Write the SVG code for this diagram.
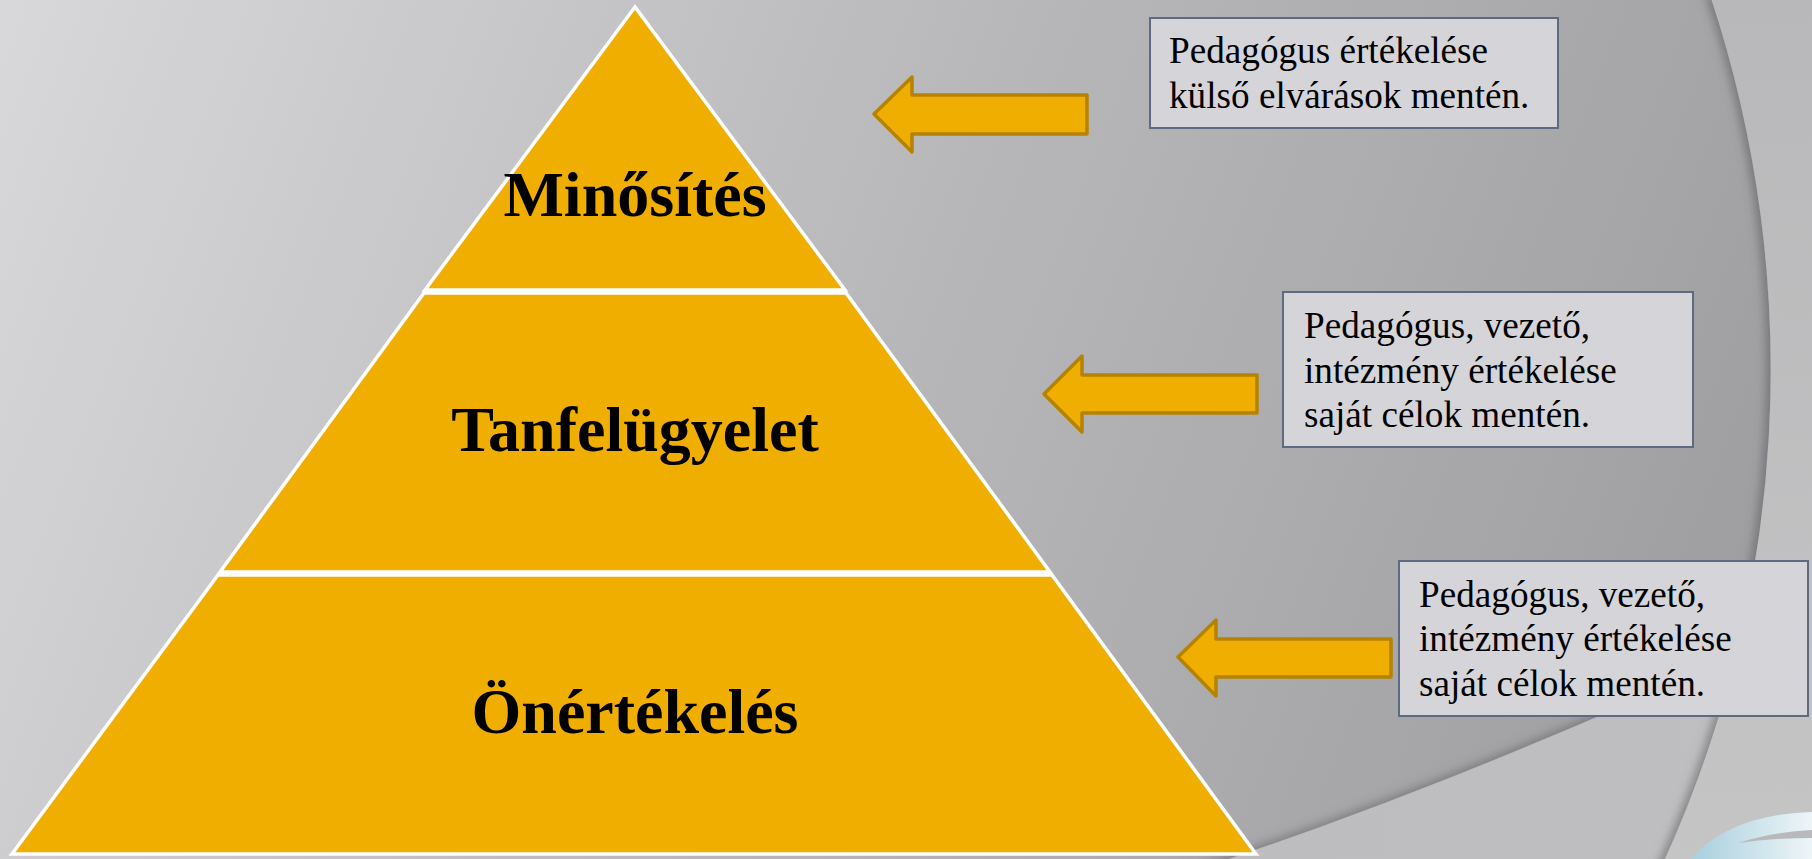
<svg xmlns="http://www.w3.org/2000/svg" width="1812" height="859" viewBox="0 0 1812 859">
  <defs>
    <linearGradient id="bg" x1="0" y1="0" x2="1812" y2="700" gradientUnits="userSpaceOnUse">
      <stop offset="0" stop-color="#d8d8db"/>
      <stop offset="0.5" stop-color="#b7b7ba"/>
      <stop offset="1" stop-color="#9c9c9f"/>
    </linearGradient>
    <linearGradient id="lightR" x1="0" y1="0" x2="0" y2="1">
      <stop offset="0" stop-color="#b8b8ba"/>
      <stop offset="1" stop-color="#c5c5c6"/>
    </linearGradient>
    <linearGradient id="lightB" x1="0" y1="0" x2="1" y2="0">
      <stop offset="0" stop-color="#bdbdbf"/>
      <stop offset="1" stop-color="#bfbfc1"/>
    </linearGradient>
    <linearGradient id="blue" x1="0" y1="0" x2="1" y2="0">
      <stop offset="0" stop-color="#a6cedd"/>
      <stop offset="1" stop-color="#eef5f8"/>
    </linearGradient>
    <filter id="shL" x="-20%" y="-20%" width="140%" height="140%">
      <feDropShadow dx="-5" dy="0" stdDeviation="5" flood-color="#5a5a5c" flood-opacity="0.55"/>
    </filter>
    <filter id="shU" x="-20%" y="-20%" width="140%" height="140%">
      <feDropShadow dx="0" dy="-4" stdDeviation="5" flood-color="#5a5a5c" flood-opacity="0.5"/>
    </filter>
    <style>
      .tier { fill: #f0ae00; stroke: #ffffff; stroke-width: 3.5; stroke-linejoin: miter; }
      .tierText { font-family: "Liberation Serif", "Times New Roman", serif; font-weight: bold; font-size: 64px; fill: #000000; text-anchor: middle; }
      .arrow { fill: #f0ae00; stroke: #b58300; stroke-width: 3.5; stroke-linejoin: round; }
      .box { fill: #d5d5d9; stroke: #5d6a82; stroke-width: 2; }
      .boxText { font-family: "Liberation Serif", "Times New Roman", serif; font-size: 37.2px; fill: #000000; }
    </style>
  </defs>

  <!-- background -->
  <rect x="0" y="0" width="1812" height="859" fill="url(#bg)"/>
  <path d="M 1150 885 Q 1450 790 1790 630 L 1830 630 L 1830 885 Z" fill="url(#lightB)" filter="url(#shU)"/>
  <path d="M 1710 -5 A 1186 1186 0 0 1 1660 870 L 1830 870 L 1830 -5 Z" fill="url(#lightR)" filter="url(#shL)"/>
  <path d="M 1688 862 Q 1728 814 1812 812 L 1812 862 Z" fill="url(#blue)"/>
  <path d="M 1738 843 Q 1772 832 1812 830 L 1812 838 Q 1772 838 1738 843 Z" fill="#b9b9bb"/>

  <!-- pyramid -->
  <g id="tier-minosites">
    <polygon class="tier" points="635,7 425,290 845,290"/>
    <text class="tierText" x="635" y="216">Minősítés</text>
  </g>
  <g id="tier-tanfelugyelet">
    <polygon class="tier" points="424,293 846,293 1050,572 220,572"/>
    <text class="tierText" x="635" y="451">Tanfelügyelet</text>
  </g>
  <g id="tier-onertekeles">
    <polygon class="tier" points="218,575 1052,575 1256,854 12,854"/>
    <text class="tierText" x="635" y="733">Önértékelés</text>
  </g>

  <!-- text boxes -->
  <g id="box-minosites">
    <rect class="box" x="1150" y="18" width="408" height="110"/>
    <text class="boxText" x="1169" y="63">Pedagógus értékelése</text>
    <text class="boxText" x="1169" y="108">külső elvárások mentén.</text>
  </g>
  <g id="box-tanfelugyelet">
    <rect class="box" x="1283" y="292" width="410" height="155"/>
    <text class="boxText" x="1304" y="338">Pedagógus, vezető,</text>
    <text class="boxText" x="1304" y="383">intézmény értékelése</text>
    <text class="boxText" x="1304" y="427">saját célok mentén.</text>
  </g>
  <g id="box-onertekeles">
    <rect class="box" x="1399" y="561" width="409" height="155"/>
    <text class="boxText" x="1419" y="607">Pedagógus, vezető,</text>
    <text class="boxText" x="1419" y="651">intézmény értékelése</text>
    <text class="boxText" x="1419" y="696">saját célok mentén.</text>
  </g>

  <!-- connectors (block arrows) -->
  <g id="connectors">
    <polygon class="arrow" points="874,114 912,77 912,95 1087,95 1087,134 912,134 912,152"/>
    <polygon class="arrow" points="1044,394 1082,356 1082,375 1257,375 1257,413 1082,413 1082,432"/>
    <polygon class="arrow" points="1178,657 1216,620 1216,639 1391,639 1391,677 1216,677 1216,696"/>
  </g>
</svg>
